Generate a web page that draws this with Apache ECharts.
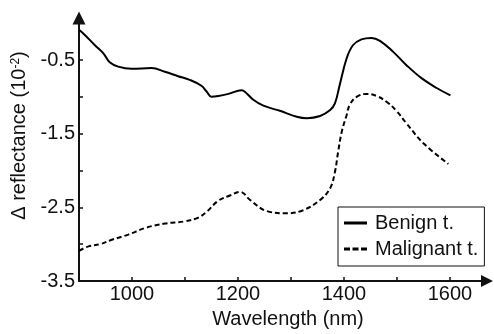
<!DOCTYPE html>
<html>
<head>
<meta charset="utf-8">
<script src="https://cdn.jsdelivr.net/npm/echarts@6/dist/echarts.min.js"></script>
<style>
  html, body { margin: 0; padding: 0; background: #fff; }
  #chart { width: 494px; height: 334px; }
</style>
</head>
<body>
<div id="chart"></div>
<script>
// wavelength (nm) / delta reflectance (10^-2)
const benignX = [900, 911, 930, 946, 958, 974, 999, 1037, 1062, 1087, 1109, 1131, 1141, 1150, 1163, 1182, 1207, 1213, 1229, 1248, 1279, 1311, 1330, 1355, 1374, 1383, 1392, 1405, 1417, 1433, 1452, 1468, 1493, 1518, 1547, 1575, 1601];
const benignY = [-0.09, -0.16, -0.30, -0.41, -0.53, -0.59, -0.62, -0.61, -0.66, -0.72, -0.77, -0.85, -0.93, -1.00, -0.99, -0.96, -0.91, -0.93, -1.04, -1.12, -1.19, -1.27, -1.29, -1.26, -1.18, -1.09, -0.84, -0.48, -0.30, -0.22, -0.20, -0.24, -0.39, -0.57, -0.75, -0.88, -0.98];
const malignantX = [900, 918, 940, 962, 993, 1025, 1062, 1100, 1125, 1141, 1163, 1185, 1204, 1223, 1254, 1292, 1323, 1355, 1374, 1383, 1389, 1396, 1405, 1411, 1424, 1443, 1462, 1481, 1499, 1518, 1550, 1597];
const malignantY = [-3.09, -3.03, -3.00, -2.94, -2.87, -2.78, -2.72, -2.69, -2.64, -2.56, -2.41, -2.34, -2.29, -2.40, -2.55, -2.58, -2.54, -2.40, -2.24, -2.02, -1.75, -1.47, -1.25, -1.11, -1.00, -0.96, -0.99, -1.07, -1.19, -1.36, -1.63, -1.91];

const xTicks = [900, 1000, 1100, 1200, 1300, 1400, 1500, 1600];
const xLabels = [1000, 1200, 1400, 1600];
const yTicks = [-3.5, -3, -2.5, -2, -1.5, -1, -0.5];
const yLabels = [-3.5, -2.5, -1.5, -0.5];

const toPairs = (xs, ys) => xs.map((x, i) => [x, ys[i]]);

const chart = echarts.init(document.getElementById('chart'));
const font = 'Liberation Sans, Arial, sans-serif';
const axisColor = '#111';

// legend samples: a solid bar and three dashes
const solidIcon = 'path://M0,0H23V3H0Z';
const dashIcon = 'path://M0,0H6V3H0Z M8.5,0H14.5V3H8.5Z M17,0H23V3H17Z';

chart.setOption({
  animation: false,
  textStyle: { fontFamily: font },
  grid: { left: 79, right: 7, top: 18, bottom: 53, outerBoundsMode: 'none' },
  legend: {
    orient: 'vertical',
    left: 338,
    top: 207,
    padding: [6, 6, 7, 6],
    itemGap: 6,
    itemWidth: 23,
    itemHeight: 3,
    borderColor: '#111',
    borderWidth: 1,
    itemStyle: { color: '#000', borderWidth: 0 },
    textStyle: { fontSize: 20, color: '#111', fontFamily: font, padding: [0, 0, 0, 3] },
    data: [
      { name: 'Benign t.', icon: solidIcon },
      { name: 'Malignant t.', icon: dashIcon },
    ],
  },
  xAxis: {
    type: 'value',
    min: 900,
    max: 1670,
    name: 'Wavelength (nm)',
    nameLocation: 'middle',
    nameGap: 28,
    nameTextStyle: { fontSize: 20, color: '#111', fontFamily: font, padding: [0, 0, 0, 10] },
    splitLine: { show: false },
    axisLine: {
      onZero: false,
      lineStyle: { color: axisColor, width: 2 },
      symbol: ['none', 'triangle'],
      symbolSize: [12, 12],
    },
    axisTick: { inside: true, length: 4, lineStyle: { color: axisColor, width: 1.5 }, customValues: xTicks },
    axisLabel: { fontSize: 20, color: '#111', margin: 3, customValues: xLabels, formatter: (v) => String(v) },
  },
  yAxis: {
    type: 'value',
    min: -3.5,
    max: 0.07,
    name: 'Δ reflectance (10{sup|-2})',
    nameLocation: 'middle',
    nameGap: 44,
    nameRotate: 90,
    nameTextStyle: {
      fontSize: 20, color: '#111', fontFamily: font, padding: [0, 0, 0, 28],
      rich: { sup: { fontSize: 12, verticalAlign: 'top', color: '#111', fontFamily: font } },
    },
    splitLine: { show: false },
    axisLine: {
      onZero: false,
      lineStyle: { color: axisColor, width: 2 },
      symbol: ['none', 'triangle'],
      symbolSize: [13, 13],
    },
    axisTick: { inside: true, length: 4, lineStyle: { color: axisColor, width: 1.5 }, customValues: yTicks },
    axisLabel: { fontSize: 20, color: '#111', margin: 4, customValues: yLabels, formatter: (v) => String(v) },
  },
  series: [
    {
      name: 'Benign t.',
      type: 'line',
      smooth: 0.4,
      symbol: 'none',
      color: '#000',
      lineStyle: { color: '#000', width: 2 },
      data: toPairs(benignX, benignY),
    },
    {
      name: 'Malignant t.',
      type: 'line',
      smooth: 0.4,
      symbol: 'none',
      color: '#000',
      lineStyle: { color: '#000', width: 2, type: [5, 3] },
      data: toPairs(malignantX, malignantY),
    },
  ],
});
</script>
</body>
</html>
